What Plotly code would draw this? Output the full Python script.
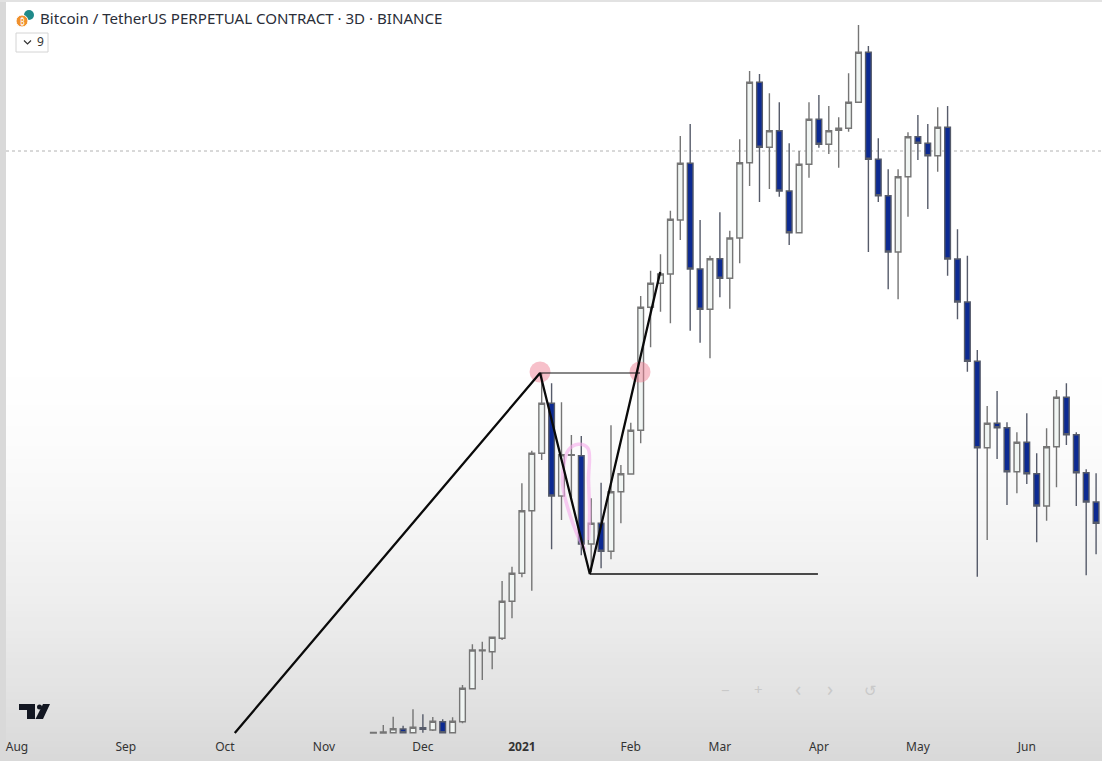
import pandas as pd
import plotly.graph_objects as go

# --- chart data (USDT) -----------------------------------------------------
first_bar = "2020-11-17"
bar_days = 3
opens = [18855,18855,18875,19115,18875,19200,19050,19590,18875,19590,21735,24205,24140,25010,27415,29235,33305,37035,40285,34260,
         36905,36880,31140,32485,30665,34540,35690,38530,46525,48085,48690,52200,55885,49015,46395,49685,48410,51030,55925,61150,
         56925,58005,54085,51375,55820,58745,57120,58030,58160,59850,63100,56145,53780,50120,55015,57615,57185,56380,58225,49665,
         46870,43015,37400,38985,38700,35840,37750,35710,33610,37465,40675,38245,35775,33870,32485]
highs = [18920,19375,19915,19330,20395,20070,19895,19745,19875,21975,24620,24790,25115,28735,29665,35085,37205,42255,41585,40350,
         38225,38160,34110,35125,38855,36275,39025,47260,48905,49970,52805,57660,58440,52200,49880,52700,51505,57445,61885,61690,
         60435,59850,57185,56685,59850,60325,59610,58875,61735,64875,63510,57510,55495,55495,57900,59025,58440,59525,59610,51595,
         49880,43750,40110,41085,39050,38400,39635,37035,38660,41150,41585,38400,35995,35735,35950]
lows = [18855,18855,18855,18855,18855,18875,18985,18855,18855,19485,21695,22300,22995,24900,26310,28975,28105,36600,30795,32700,
        34195,30405,29320,29560,30145,32485,35690,37685,43925,46240,45485,50900,45005,44225,43210,47175,46435,49385,54410,53370,
        54215,53715,50575,51355,54950,56900,56490,55600,57940,59850,50120,53370,47695,47045,52415,56100,52915,55340,48580,45745,
        42340,29015,31400,36665,33675,34435,35040,31250,32655,34825,37575,33610,29105,30470,31400]
closes = [18888,18920,19135,18875,19225,19095,19615,18875,19615,21760,24250,24250,25075,27415,29235,33305,37035,40285,34260,36945,
          36945,31140,32485,30665,34540,35710,38530,46525,48085,48690,52245,55885,49015,46395,49685,48410,51030,55925,61150,56925,
          58005,54085,51375,55820,58745,57120,58005,58160,59850,63100,56145,53780,50120,55015,57615,57185,56380,58225,49665,46870,
          43015,37400,38985,38700,35840,37750,35710,33610,37465,40675,38245,35775,33870,32485,33805]

tick_dates = ["2020-08-01","2020-09-03","2020-10-03","2020-11-02","2020-12-02","2021-01-01",
              "2021-02-03","2021-03-02","2021-04-01","2021-05-01","2021-06-03"]
tick_labels = ["Aug","Sep","Oct","Nov","Dec","<b>2021</b>","Feb","Mar","Apr","May","Jun"]

# drawn pattern (dates / prices)
zigzag_dates = ["2020-10-06","2021-01-06 12:00","2021-01-21 14:00","2021-02-11 22:00"]
zigzag_prices = [18855,42255,29190,48820]
upper_level_dates = ["2021-01-06 12:00","2021-02-05 19:00"]
upper_level_prices = [42255,42255]
lower_level_dates = ["2021-01-21 14:00","2021-03-31 17:00"]
lower_level_prices = [29190,29190]
dot_dates = ["2021-01-06 12:00","2021-02-05 19:00"]
dot_prices = [42320,42320]
pink_day_offsets = [19.15,16.6,14.1,12.4,12.6,14.1,17.1,20,20.2,20.5,20.2]
pink_prices = [30750,31835,33350,34865,36165,37250,37620,37360,35300,33135,31400]
dotted_level = 56685

price_range = [18660, 66500]
date_range = ["2020-07-26 20:24", "2021-06-25 19:00"]

WIDTH, HEIGHT, BOTTOM = 1102, 761, 25
PLOT_H = HEIGHT - BOTTOM

def px(x):
    return x / WIDTH

def py(y):
    return (PLOT_H - y) / PLOT_H

bar_dates = pd.date_range(first_bar, periods=len(opens), freq=f"{bar_days}D")
pink_dates = [pd.Timestamp("2021-01-01") + pd.Timedelta(days=d) for d in pink_day_offsets]

fig = go.Figure()
fig.add_trace(go.Candlestick(
    x=bar_dates, open=opens, high=highs, low=lows, close=closes, whiskerwidth=0,
    increasing=dict(line=dict(color="#757575", width=1.4), fillcolor="#f0f5f3"),
    decreasing=dict(line=dict(color="#565b6a", width=1.4), fillcolor="#0c2a92"),
))
fig.add_trace(go.Scatter(x=pink_dates, y=pink_prices, mode="lines", hoverinfo="skip",
                         line=dict(color="rgba(245,170,235,0.6)", width=3.5, shape="spline")))
fig.add_trace(go.Scatter(x=dot_dates, y=dot_prices, mode="markers", hoverinfo="skip",
                         marker=dict(size=21, color="rgba(240,130,150,0.5)", line=dict(width=0))))
fig.add_trace(go.Scatter(x=upper_level_dates, y=upper_level_prices, mode="lines", hoverinfo="skip",
                         line=dict(color="#111", width=1.1)))
fig.add_trace(go.Scatter(x=lower_level_dates, y=lower_level_prices, mode="lines", hoverinfo="skip",
                         line=dict(color="#111", width=1.3)))
fig.add_trace(go.Scatter(x=zigzag_dates, y=zigzag_prices, mode="lines", hoverinfo="skip",
                         line=dict(color="#0a0a0a", width=2.3)))

shapes = []
# background fade, white in the upper part to grey at the bottom
steps = 60
top_fade, end_fade = 350, HEIGHT
for i in range(steps):
    y0 = top_fade + (end_fade - top_fade) * i / steps
    y1 = top_fade + (end_fade - top_fade) * (i + 1) / steps + 1
    t = i / (steps - 1)
    v = int(round(255 - 38 * t ** 1.6))
    shapes.append(dict(type="rect", xref="paper", yref="paper", x0=0, x1=1, y0=py(y0), y1=py(y1),
                       fillcolor=f"rgb({v},{v},{v})", line_width=0, layer="below"))
# window borders
shapes.append(dict(type="rect", xref="paper", yref="paper", x0=0, x1=px(6), y0=py(HEIGHT), y1=py(0),
                   fillcolor="#d9d9d9", line_width=0, layer="below"))
shapes.append(dict(type="rect", xref="paper", yref="paper", x0=0, x1=1, y0=py(2), y1=py(0),
                   fillcolor="#e2e2e2", line_width=0, layer="below"))
# dotted level
shapes.append(dict(type="line", xref="paper", yref="y", x0=px(6), x1=1, y0=dotted_level, y1=dotted_level,
                   line=dict(color="#a0a0a0", width=0.8, dash="dot"), layer="below"))
# symbol icons
shapes.append(dict(type="circle", xref="paper", yref="paper", x0=px(24), x1=px(34), y0=py(20), y1=py(10),
                   fillcolor="#1f8a8a", line_width=0))
shapes.append(dict(type="circle", xref="paper", yref="paper", x0=px(16), x1=px(28), y0=py(27), y1=py(15),
                   fillcolor="#f0902c", line=dict(color="white", width=1)))
# legend toggle button
shapes.append(dict(type="rect", xref="paper", yref="paper", x0=px(16), x1=px(48), y0=py(52), y1=py(33),
                   fillcolor="white", line=dict(color="#d4d4d4", width=1)))

def poly(points, close=True):
    d = "M " + " L ".join(f"{px(x)} {py(y)}" for x, y in points)
    return d + (" Z" if close else "")

shapes.append(dict(type="path", xref="paper", yref="paper",
                   path=poly([(24, 40.5), (27.5, 44), (31, 40.5)], close=False),
                   line=dict(color="#333", width=1.2)))
# TradingView mark
shapes.append(dict(type="path", xref="paper", yref="paper",
                   path=poly([(19, 704), (35, 704), (35, 719), (27, 719), (27, 710), (19, 710)]) + " "
                        + poly([(43, 704), (50, 704), (43, 719), (35.5, 719)]),
                   fillcolor="#131722", line_width=0))
shapes.append(dict(type="circle", xref="paper", yref="paper", x0=px(37), x1=px(42), y0=py(709.5), y1=py(704.5),
                   fillcolor="#131722", line_width=0))

FONT = "Noto Sans, Open Sans, sans-serif"
annotations = [
    dict(text="Bitcoin / TetherUS PERPETUAL CONTRACT · 3D · BINANCE", x=px(38), y=py(18), xanchor="left",
         font=dict(size=15.1, color="#2a2e39")),
    dict(text="₿", x=px(22), y=py(21), font=dict(size=8, color="white")),
    dict(text="9", x=px(40), y=py(42), font=dict(size=12, color="#333")),
    dict(text="−", x=px(725), y=py(690), font=dict(size=15, color="#c9c9c9")),
    dict(text="+", x=px(758), y=py(689), font=dict(size=15, color="#c9c9c9")),
    dict(text="‹", x=px(798), y=py(688), font=dict(size=20, color="#c9c9c9")),
    dict(text="›", x=px(830), y=py(688), font=dict(size=20, color="#c9c9c9")),
    dict(text="↺", x=px(870), y=py(690), font=dict(size=15, color="#c9c9c9")),
]
for a in annotations:
    a.update(xref="paper", yref="paper", showarrow=False, yanchor="middle")
    a.setdefault("xanchor", "center")

fig.update_layout(
    width=WIDTH, height=HEIGHT, margin=dict(l=0, r=0, t=0, b=BOTTOM, pad=0),
    paper_bgcolor="white", plot_bgcolor="rgba(0,0,0,0)", showlegend=False,
    font=dict(family=FONT, color="#333"), shapes=shapes, annotations=annotations, boxgap=0.18,
    xaxis=dict(type="date", range=date_range, rangeslider=dict(visible=False), showgrid=False, zeroline=False,
               showline=False, ticks="", tickmode="array", tickvals=tick_dates, ticktext=tick_labels,
               tickfont=dict(size=12, color="#333"), tickangle=0, ticklabelstandoff=2),
    yaxis=dict(range=price_range, showgrid=False, zeroline=False, showline=False, showticklabels=False, ticks=""),
)

fig.write_html("out.html", config=dict(displayModeBar=False),
               post_script="document.body.style.margin='0';document.body.style.overflow='hidden';")
